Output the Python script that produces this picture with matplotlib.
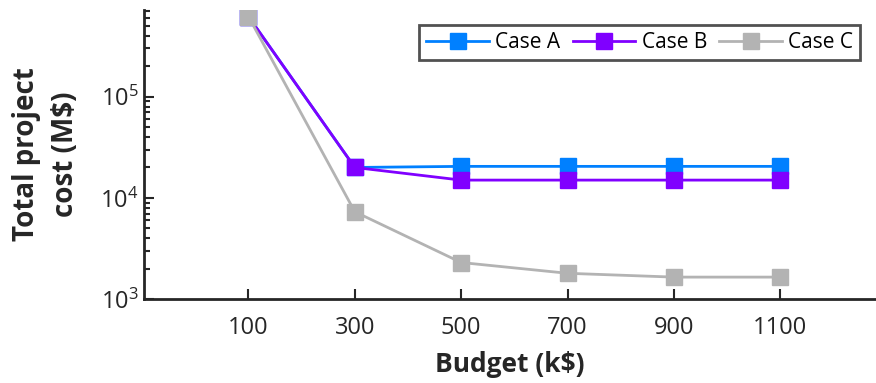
import numpy as np
from matplotlib import pyplot as plt

plt.rcParams['font.family'] = ['Open Sans', 'DejaVu Sans']

budget = [100, 300, 500, 700, 900, 1100]
case_a = [6.2e5, 2.0e4, 2.05e4, 2.05e4, 2.05e4, 2.05e4]
case_b = [6.2e5, 2.0e4, 1.5e4, 1.5e4, 1.5e4, 1.5e4]
case_c = [6.2e5, 7.3e3, 2.3e3, 1.8e3, 1.65e3, 1.65e3]

fig = plt.figure(figsize=(8.76, 3.83), dpi=100)
ax = fig.add_axes([0.164, 0.219, 0.836, 0.755])

ax.plot(budget, case_a, '-s', color='#0080ff', lw=2, ms=11, label='Case A')
ax.plot(budget, case_b, '-s', color='#8000ff', lw=2, ms=11, label='Case B')
ax.plot(budget, case_c, '-s', color='#b3b3b3', lw=2, ms=11, label='Case C')

ax.set_yscale('log')
ax.set_ylim(1e3, 7.2e5)
ax.set_xlim(-97, 1280)
ax.set_xticks(budget)
ax.set_yticks([1e3, 1e4, 1e5])

for s in ['top', 'right']:
    ax.spines[s].set_visible(False)
for s in ['left', 'bottom']:
    ax.spines[s].set_linewidth(2)
    ax.spines[s].set_color('#262626')

ax.tick_params(which='major', direction='in', length=7, width=1.5, labelsize=17, colors='#262626')
ax.tick_params(which='minor', direction='in', length=4, width=1.5, colors='#262626')
ax.tick_params(axis='x', pad=12)

ax.set_xlabel('Budget (k$)', fontsize=19, fontweight='bold', color='#262626', labelpad=8)
ax.set_ylabel('Total project\ncost (M$)', fontsize=20, fontweight='bold', color='#262626',
              labelpad=15, linespacing=1.45)

leg = ax.legend(loc='upper right', ncol=3, fontsize=15, frameon=True, fancybox=False,
                edgecolor='#262626', borderpad=0.35, columnspacing=0.6, handlelength=3.0,
                handletextpad=0.3, bbox_to_anchor=(0.993, 0.985))
leg.get_frame().set_linewidth(2)

fig.savefig('out.png', dpi=100)
